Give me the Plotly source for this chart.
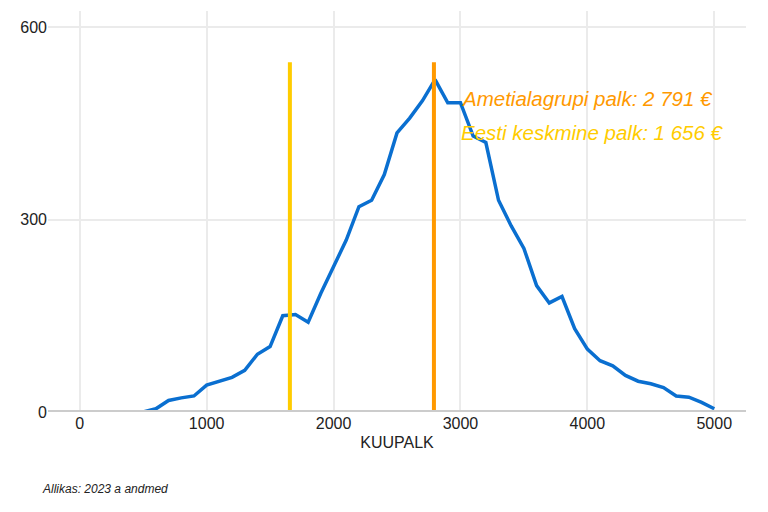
import plotly.graph_objects as go

palk = list(range(0, 5001, 100))
arv = [0, 0, 0, 0, 0, 0, 5, 18, 22, 25,
       42, 48, 54, 65, 90, 102, 150, 152, 140, 185,
       228, 268, 320, 330, 370, 435, 458, 485, 518, 482,
       482, 430, 420, 330, 290, 255, 197, 170, 180, 130,
       98, 80, 72, 57, 48, 44, 38, 25, 23, 15, 5]

eesti_keskmine = 1656
ameti_palk = 2791

fig = go.Figure()
fig.add_trace(go.Scatter(x=palk, y=arv, mode="lines",
                         line=dict(color="#0a6fd0", width=3.5), showlegend=False))
fig.add_shape(type="line", x0=eesti_keskmine, x1=eesti_keskmine, y0=0, y1=545,
              line=dict(color="#ffcc00", width=4))
fig.add_shape(type="line", x0=ameti_palk, x1=ameti_palk, y0=0, y1=545,
              line=dict(color="#ff9900", width=4))
fig.add_shape(type="line", xref="paper", x0=0, x1=1, y0=0, y1=0,
              line=dict(color="#cccccc", width=4))
fig.add_annotation(x=2990, y=488, text="<i>Ametialagrupi palk: 2 791 €</i>",
                   showarrow=False, xanchor="left",
                   font=dict(color="#ff9900", size=20.5))
fig.add_annotation(x=2990, y=435, text="<i>Eesti keskmine palk: 1 656 €</i>",
                   showarrow=False, xanchor="left",
                   font=dict(color="#ffcc00", size=20.5))
fig.add_annotation(xref="paper", yref="paper", x=-0.012, y=-0.215,
                   text="<i>Allikas: 2023 a andmed</i>", showarrow=False,
                   xanchor="left", font=dict(size=12, color="#222"))

fig.update_layout(
    width=768, height=512, plot_bgcolor="white", paper_bgcolor="white",
    margin=dict(l=40, r=30, t=3, b=108),
    font=dict(family="Liberation Sans, Arial", size=16, color="#222"),
    xaxis=dict(range=[-250, 5250], tickvals=[0, 1000, 2000, 3000, 4000, 5000],
               showgrid=True, gridcolor="#ebebeb", gridwidth=2, zeroline=False,
               title=dict(text="KUUPALK", font=dict(size=16), standoff=5)),
    yaxis=dict(range=[0, 625], tickvals=[0, 300, 600], showgrid=True,
               gridcolor="#ebebeb", gridwidth=2, zeroline=False),
)
fig.write_html("out.html")
